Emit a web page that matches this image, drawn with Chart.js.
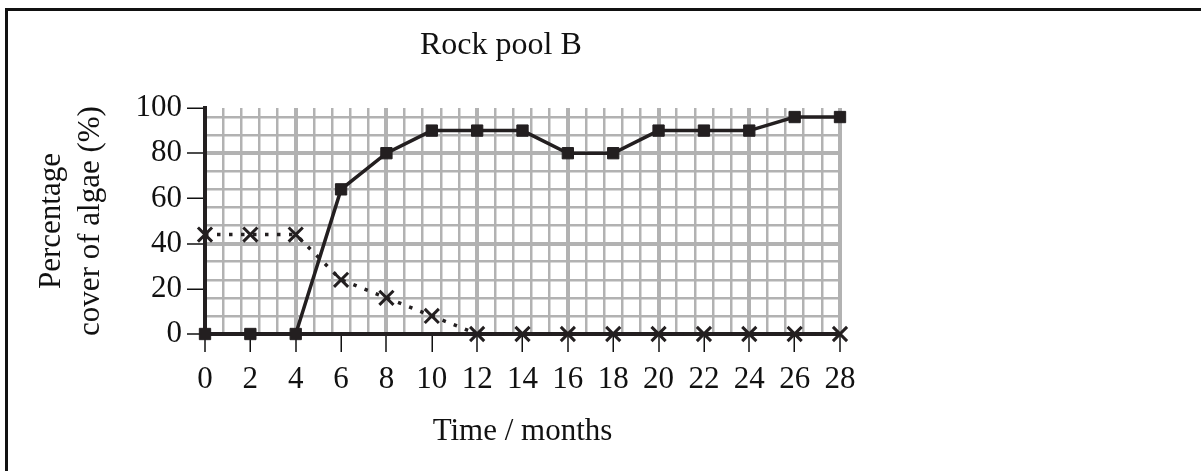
<!DOCTYPE html>
<html lang="en">

<head>
    <meta charset="UTF-8">
    <title>Rock pool B</title>
    <style>
        body { margin: 0; background: #fff; }
        .wrap { position: relative; width: 1201px; height: 471px; overflow: hidden; }
        .frame { position: absolute; left: 5px; top: 8px; right: -10px; bottom: -10px;
            border-top: 3px solid #111; border-left: 3px solid #111; pointer-events: none; }
        .title { position: absolute; left: 420px; top: 27px; font: 32px/1 "Liberation Serif", serif; color: #111; white-space: nowrap; }
    </style>
</head>

<body>
    <div class="wrap">
        <canvas id="myChart01" width="1201" height="471"></canvas>
        <div class="frame"></div>
        <div class="title">Rock pool B</div>
    </div>
    <script src="https://cdn.jsdelivr.net/npm/chart.js"></script>
    <script>
        // data
        var months = [0, 2, 4, 6, 8, 10, 12, 14, 16, 18, 20, 22, 24, 26, 28];
        var squareCover = [0, 0, 0, 64, 80, 90, 90, 90, 80, 80, 90, 90, 90, 96, 96];
        var crossCover = [44, 44, 44, 24, 16, 8, 0, 0, 0, 0, 0, 0, 0, 0, 0];
        var xTickLabels = [0, 2, 4, 6, 8, 10, 12, 14, 16, 18, 20, 22, 24, 26, 28];
        var yTickLabels = [0, 20, 40, 60, 80, 100];

        // graph paper: small squares 0.8 month x 8 %, bold every 5 squares
        var xGridStep = 0.8, yGridStep = 8, boldEvery = 5;

        var ink = '#231f20';
        var gridGrey = '#b2b2b2';
        var serif = '"Liberation Serif", "Times New Roman", serif';

        function gridValues(max, step) {
            var out = [];
            for (var k = 0; k * step <= max + 1e-9; k++) out.push(Math.round(k * step * 100) / 100);
            return out;
        }
        function near(a, b) { return Math.abs(a - b) < 1e-6; }
        function onGrid(v, step, max) {
            return near(v / step, Math.round(v / step)) && v <= max;
        }
        function isBold(v, step) {
            var k = v / step;
            return near(k, Math.round(k)) && Math.round(k) % boldEvery == 0;
        }
        function inList(v, list) {
            return list.some(function (t) { return near(t, v); });
        }
        function mergeTicks(grid, labels) {
            var all = grid.slice();
            labels.forEach(function (t) { if (!inList(t, all)) all.push(t); });
            all.sort(function (a, b) { return a - b; });
            return all.map(function (v) { return { value: v }; });
        }

        var xMax = 28, yMax = 100;
        var xGrid = gridValues(xMax, xGridStep);
        var yGrid = gridValues(yMax - 1, yGridStep); // no line drawn at the 100 edge

        const ctx01 = document.getElementById('myChart01');
        var mychart01 = new Chart(ctx01, {
            type: 'line',
            data: {
                datasets: [{
                    label: 'crosses',
                    data: months.map(function (m, i) { return { x: m, y: crossCover[i] }; }),
                    borderColor: ink,
                    borderWidth: 3.5,
                    borderDash: [3.5, 8.5],
                    borderCapStyle: 'butt',
                    pointStyle: 'crossRot',
                    pointRadius: 10,
                    pointBorderWidth: 3,
                    pointBorderColor: ink,
                    pointBackgroundColor: ink,
                    tension: 0,
                    clip: false
                }, {
                    label: 'squares',
                    data: months.map(function (m, i) { return { x: m, y: squareCover[i] }; }),
                    borderColor: ink,
                    borderWidth: 3.5,
                    pointStyle: 'rect',
                    pointRadius: 8,
                    pointBorderWidth: 1,
                    pointBorderColor: ink,
                    pointBackgroundColor: ink,
                    tension: 0,
                    clip: false
                }]
            },
            options: {
                responsive: false,
                animation: false,
                layout: { padding: { left: 10, right: 361, top: 108, bottom: 0 } },
                plugins: {
                    legend: { display: false },
                    tooltip: { enabled: false },
                    title: { display: false }
                },
                scales: {
                    x: {
                        type: 'linear',
                        min: 0,
                        max: xMax,
                        afterBuildTicks: function (scale) {
                            scale.ticks = mergeTicks(xGrid, xTickLabels);
                        },
                        afterFit: function (scale) { scale.height = 137; },
                        grid: {
                            color: function (c) { return onGrid(c.tick.value, xGridStep, xMax) ? gridGrey : 'rgba(0,0,0,0)'; },
                            lineWidth: function (c) { return isBold(c.tick.value, xGridStep) ? 4 : 2.5; },
                            tickColor: function (c) { return inList(c.tick.value, xTickLabels) ? '#111' : 'rgba(0,0,0,0)'; },
                            tickWidth: 1.5,
                            tickLength: 18
                        },
                        border: { color: ink, width: 4 },
                        ticks: {
                            autoSkip: false,
                            maxRotation: 0,
                            padding: 9,
                            color: '#111',
                            font: { family: serif, size: 31 },
                            callback: function (v) { return inList(v, xTickLabels) ? String(Math.round(v)) : ''; }
                        },
                        title: {
                            display: true,
                            text: 'Time / months',
                            color: '#111',
                            font: { family: serif, size: 31 },
                            padding: { top: 0, bottom: 21 }
                        }
                    },
                    y: {
                        type: 'linear',
                        min: 0,
                        max: yMax,
                        afterBuildTicks: function (scale) {
                            scale.ticks = mergeTicks(yGrid, yTickLabels);
                        },
                        afterFit: function (scale) { scale.width = 195; },
                        grid: {
                            color: function (c) { return onGrid(c.tick.value, yGridStep, yMax - 1) ? gridGrey : 'rgba(0,0,0,0)'; },
                            lineWidth: function (c) { return isBold(c.tick.value, yGridStep) ? 4 : 2.5; },
                            tickColor: function (c) { return inList(c.tick.value, yTickLabels) ? '#111' : 'rgba(0,0,0,0)'; },
                            tickWidth: 1.5,
                            tickLength: 18
                        },
                        border: { color: ink, width: 4 },
                        ticks: {
                            autoSkip: false,
                            padding: 5,
                            color: '#111',
                            font: { family: serif, size: 31 },
                            callback: function (v) { return inList(v, yTickLabels) ? String(Math.round(v)) : ''; }
                        },
                        title: {
                            display: true,
                            text: ['Percentage', 'cover of algae (%)'],
                            color: '#111',
                            font: { family: serif, size: 31, lineHeight: 1.24 },
                            padding: { top: 23, bottom: 0 }
                        }
                    }
                }
            }
        });
    </script>
</body>

</html>
